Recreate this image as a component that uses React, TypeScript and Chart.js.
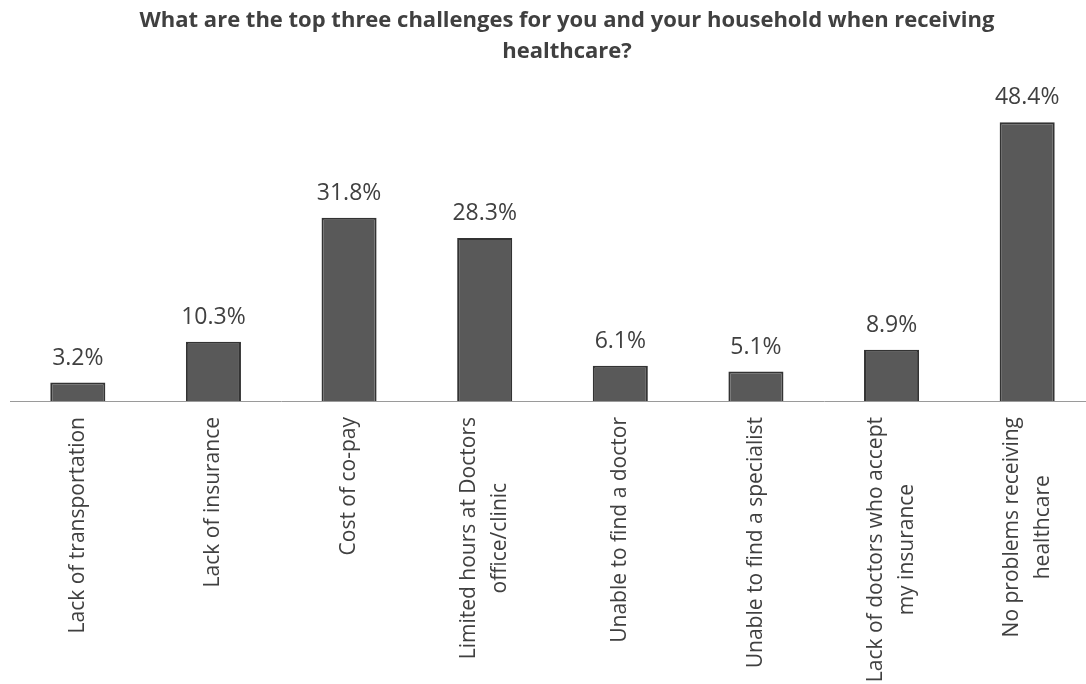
import React, { useEffect, useRef } from "react";
import { Chart, registerables } from "chart.js";

Chart.register(...registerables);

const titleLines = [
  "What are the top three challenges for you and your household when receiving",
  "healthcare?",
];

const categories: string[][] = [
  ["Lack of transportation"],
  ["Lack of insurance"],
  ["Cost of co-pay"],
  ["Limited hours at Doctors", "office/clinic"],
  ["Unable to find a doctor"],
  ["Unable to find a specialist"],
  ["Lack of doctors who accept", "my insurance"],
  ["No problems receiving", "healthcare"],
];

const values = [3.2, 10.3, 31.8, 28.3, 6.1, 5.1, 8.9, 48.4];

const FONT = "'Open Sans', 'Liberation Sans', sans-serif";
const TEXT_COLOR = "#404040";

const titlePlugin = {
  id: "customTitle",
  afterDraw(chart: any) {
    const ctx = chart.ctx;
    ctx.save();
    ctx.fillStyle = TEXT_COLOR;
    ctx.font = `bold 22px ${FONT}`;
    ctx.textAlign = "center";
    ctx.textBaseline = "alphabetic";
    titleLines.forEach((line, i) => {
      ctx.fillText(line, 567, 27 + i * 31);
    });
    ctx.restore();
  },
};

const valueLabelPlugin = {
  id: "valueLabels",
  afterDatasetsDraw(chart: any) {
    const ctx = chart.ctx;
    const meta = chart.getDatasetMeta(0);
    ctx.save();
    ctx.fillStyle = TEXT_COLOR;
    ctx.font = `23px ${FONT}`;
    ctx.textAlign = "center";
    ctx.textBaseline = "alphabetic";
    meta.data.forEach((bar: any, i: number) => {
      ctx.fillText(`${values[i].toFixed(1)}%`, bar.x, bar.y - 18);
    });
    ctx.restore();
  },
};

const xLabelPlugin = {
  id: "xLabels",
  afterDraw(chart: any) {
    const ctx = chart.ctx;
    const xScale = chart.scales.x;
    const top = chart.chartArea.bottom + 16;
    const lineHeight = 31;
    ctx.save();
    ctx.fillStyle = TEXT_COLOR;
    ctx.font = `21px ${FONT}`;
    ctx.textAlign = "center";
    ctx.textBaseline = "middle";
    categories.forEach((lines, i) => {
      const x = xScale.getPixelForValue(i);
      const w = Math.max(...lines.map((l) => ctx.measureText(l).width));
      ctx.save();
      ctx.translate(x, top);
      ctx.rotate(-Math.PI / 2);
      lines.forEach((line, j) => {
        const off = (j - (lines.length - 1) / 2) * lineHeight;
        ctx.fillText(line, -w / 2, off);
      });
      ctx.restore();
    });
    ctx.restore();
  },
};

export default function App() {
  const canvasRef = useRef<HTMLCanvasElement | null>(null);

  useEffect(() => {
    if (!canvasRef.current) return;
    const chart = new Chart(canvasRef.current, {
      type: "bar",
      data: {
        labels: categories.map((c) => c.join(" ")),
        datasets: [
          {
            data: values,
            backgroundColor: "#595959",
            borderColor: "#333333",
            borderWidth: 2,
            barPercentage: 0.406,
            categoryPercentage: 1,
          },
        ],
      },
      options: {
        animation: false,
        responsive: false,
        maintainAspectRatio: false,
        layout: { padding: { left: 10, right: 1, top: 113, bottom: 275 } },
        plugins: {
          legend: { display: false },
          title: { display: false },
          tooltip: { enabled: false },
        },
        scales: {
          x: {
            display: true,
            grid: { display: false },
            ticks: { display: false },
            border: { display: true, color: "#9a9a9a", width: 1 },
          },
          y: {
            display: false,
            min: 0,
            max: 50,
          },
        },
      },
      plugins: [titlePlugin, valueLabelPlugin, xLabelPlugin],
    });
    return () => chart.destroy();
  }, []);

  return (
    <div
      style={{
        position: "fixed",
        left: 0,
        top: 0,
        width: 1086,
        height: 684,
        overflow: "hidden",
        background: "#ffffff",
      }}
    >
      <canvas ref={canvasRef} width={1096} height={684} style={{ display: "block" }} />
    </div>
  );
}
